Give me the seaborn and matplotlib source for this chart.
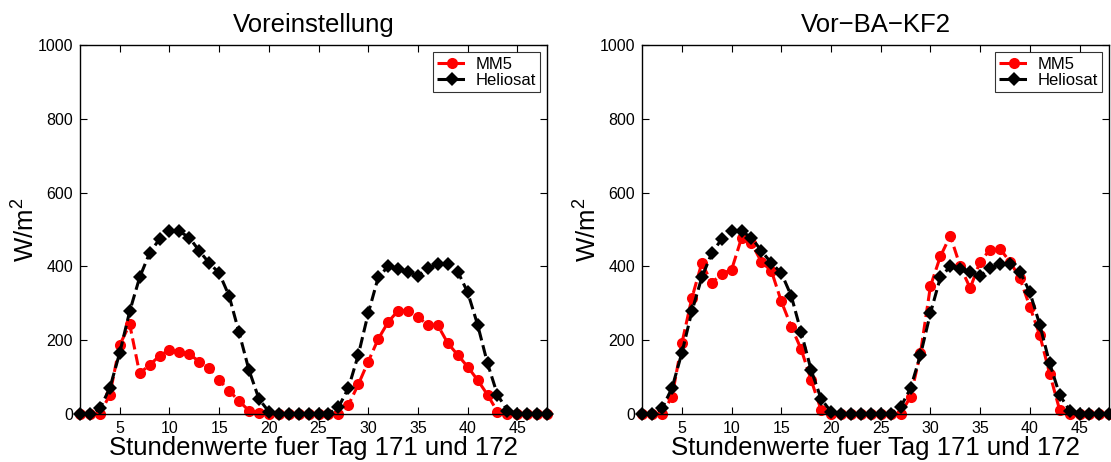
import matplotlib
matplotlib.use("Agg")
import matplotlib.pyplot as plt
import numpy as np
import seaborn as sns

hours = np.arange(1, 49)

# Heliosat (same in both panels)
heliosat = [0, 0, 15, 70, 166, 278, 370, 436, 474, 497, 495, 478, 442, 409, 382, 320,
            221, 119, 41, 6, 0, 0, 0, 0, 0, 0, 18, 70, 160, 273, 370, 400, 393, 384,
            374, 395, 406, 406, 386, 330, 242, 137, 52, 9, 0, 0, 0, 0]

# MM5, default setup
mm5_default = [0, 0, 0, 52, 187, 243, 110, 133, 157, 174, 168, 162, 142, 124, 92, 63,
               35, 9, 2, 0, 0, 0, 0, 0, 0, 0, 0, 24, 80, 142, 203, 249, 280, 280,
               262, 242, 240, 192, 160, 128, 92, 52, 6, 0, 0, 0, 0, 0]

# MM5, Vor-BA-KF2
mm5_kf2 = [0, 0, 0, 47, 192, 314, 409, 355, 380, 391, 477, 463, 412, 388, 305, 237,
           175, 92, 11, 0, 0, 0, 0, 0, 0, 0, 0, 47, 165, 346, 427, 483, 400, 341,
           413, 445, 447, 413, 368, 291, 214, 109, 11, 0, 0, 0, 0, 0]

titles = ["Voreinstellung", "Vor\u2212BA\u2212KF2"]
mm5_series = [mm5_default, mm5_kf2]

sns.set_style("white")
plt.rcParams['font.family'] = ['Liberation Sans', 'DejaVu Sans']
plt.rcParams['mathtext.fontset'] = 'custom'
plt.rcParams['mathtext.rm'] = 'Liberation Sans'
plt.rcParams['mathtext.it'] = 'Liberation Sans'
for key in ['text.color', 'axes.labelcolor', 'xtick.color', 'ytick.color']:
    plt.rcParams[key] = 'black'

fig = plt.figure(figsize=(11.11, 4.62), dpi=100)
axes = [fig.add_axes([0.072, 0.104, 0.4205, 0.7986]),
        fig.add_axes([0.578, 0.104, 0.4205, 0.7986])]

for ax, title, mm5 in zip(axes, titles, mm5_series):
    sns.lineplot(x=hours, y=mm5, ax=ax, color='red', marker='o', markersize=8,
                 markeredgewidth=0, linestyle='--', linewidth=2.2, label='MM5')
    sns.lineplot(x=hours, y=heliosat, ax=ax, color='black', marker='D', markersize=7,
                 markeredgewidth=0, linestyle='--', linewidth=2.2, label='Heliosat')
    ax.set_xlim(1, 48)
    ax.set_ylim(0, 1000)
    ax.set_xticks(range(5, 46, 5))
    ax.set_yticks(range(0, 1001, 200))
    ax.tick_params(direction='in', length=5, width=0.8, labelsize=11.5,
                   bottom=True, left=True, top=True, right=True, pad=5)
    for sp in ax.spines.values():
        sp.set_linewidth(1.0)
        sp.set_color('black')
    ax.set_title(title, fontsize=18.5, pad=9)
    ax.set_xlabel("Stundenwerte fuer Tag 171 und 172", fontsize=18.5, labelpad=0)
    ax.set_ylabel("W/m$^2$", fontsize=18.5, labelpad=-1.5)
    for ln in ax.get_lines():
        ln.set_clip_on(False)
    leg = ax.legend(loc='upper right', fontsize=12, frameon=True, fancybox=False,
                    edgecolor='black', handlelength=1.8, borderpad=0.25,
                    labelspacing=0.1, handletextpad=0.5, borderaxespad=0.45)
    leg.get_frame().set_linewidth(0.8)

fig.savefig("out.png", dpi=100)
